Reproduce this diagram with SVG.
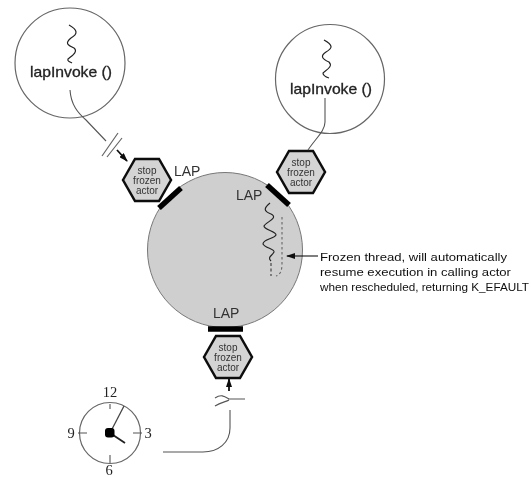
<svg xmlns="http://www.w3.org/2000/svg" width="531" height="477" viewBox="0 0 531 477">
<defs>
<marker id="arr" markerWidth="9" markerHeight="6" refX="8" refY="3" orient="auto" markerUnits="userSpaceOnUse"><path d="M0 0L9 3L0 6Z" fill="#111"/></marker>
<filter id="b" x="-5%" y="-5%" width="110%" height="110%"><feGaussianBlur stdDeviation="0.7"/></filter>
<g id="hexshape"><polygon points="-24,0 -12,-21 12,-21 24,0 12,21 -12,21" fill="#d4d4d4" stroke="#111" stroke-width="2.500"/>
<text class="h" y="-6.500">stop</text><text class="h" y="3.500">frozen</text><text class="h" y="13.500">actor</text></g>
</defs>
<style>
text{font-family:"Liberation Sans",Arial,sans-serif;fill:#222}
.h{font-size:10px;text-anchor:middle;fill:#333}
.t{font-size:14.500px;fill:#222;stroke:#222;stroke-width:.3}
.l{font-size:14px;fill:#333}
.n{font-size:11.500px;fill:#111}
.c{font-size:14.500px;text-anchor:middle;font-family:"Liberation Serif",serif;fill:#222}
.ln{fill:none;stroke:#555;stroke-width:1.100}
.sq{fill:none;stroke:#222;stroke-width:1.200}
.circ{fill:#fff;stroke:#666;stroke-width:1.200}
.bar{stroke:#000;stroke-width:5.500;fill:none}
</style>
<rect width="531" height="477" fill="#fff"/>
<g filter="url(#b)">
<g id="actor-core"><circle cx="225" cy="250" r="77.500" fill="#cfcfcf" stroke="#777" stroke-width="1"/>
<path class="bar" d="M159 208L181 188"/><path class="bar" d="M267 185L289 205"/><path class="bar" d="M208 329H243"/>
<text class="l" x="174" y="176">LAP</text><text class="l" x="236" y="200">LAP</text><text class="l" x="213" y="318">LAP</text>
<path class="sq" d="M270 203C264 208 263 211 271 214C279 218 266 222 264 226C264 230 276 231 276 235C274 239 263 239 263 244C265 248 275 249 274 252C272 256 267 257 271 261"/>
<path d="M271 263V276" fill="none" stroke="#444" stroke-width="1.200" stroke-dasharray="3 2.500"/>
<path d="M282 217V264C282 271 280 275 276 276" fill="none" stroke="#666" stroke-width="1.100" stroke-dasharray="2.500 2.500"/>
</g>
<g id="actor-left"><circle class="circ" cx="70" cy="63" r="55"/>
<path class="sq" d="M69 25C78 30 78 34 71 38C65 43 67 45 74 48C79 52 70 57 68 59C67 61 70 62 72 63"/>
<text class="t" x="30" y="77" textLength="82" lengthAdjust="spacingAndGlyphs">lapInvoke ()</text></g>
<g id="actor-right"><circle class="circ" cx="330" cy="79" r="54.500"/>
<path class="sq" d="M324 40C333 45 333 48 326 52C320 56 322 59 329 62C334 67 324 71 323 73C323 76 326 77 329 78"/>
<text class="t" x="290" y="94" textLength="82" lengthAdjust="spacingAndGlyphs">lapInvoke ()</text></g>
<g id="hex-left"><use href="#hexshape" transform="translate(147,180)"/></g>
<g id="hex-right"><use href="#hexshape" transform="translate(301,172)"/></g>
<g id="hex-bottom"><use href="#hexshape" transform="translate(228,357)"/></g>
<g id="clock"><circle class="circ" cx="110" cy="433" r="30.500"/>
<path class="ln" d="M110 404V409M110 455V463M78 433H87M133 433H142"/>
<path class="ln" d="M110 433L124 406" style="stroke:#444;stroke-width:1.300"/>
<path d="M110 433L125 443" stroke="#222" stroke-width="1.800" fill="none"/>
<rect x="105" y="428" width="9.500" height="9.500" rx="3" fill="#000"/>
<text class="c" x="110" y="397">12</text><text class="c" x="71" y="438">9</text><text class="c" x="148" y="438">3</text><text class="c" x="109" y="475">6</text></g>
<g id="note"><text class="n" x="320" y="261" textLength="187" lengthAdjust="spacingAndGlyphs">Frozen thread, will automatically</text><text class="n" x="320" y="276" textLength="191" lengthAdjust="spacingAndGlyphs">resume execution in calling actor</text><text class="n" x="320" y="291" textLength="209" lengthAdjust="spacingAndGlyphs">when rescheduled, returning K_EFAULT</text></g>
<g id="connectors">
<path class="ln" d="M70 90C71 105 78 113 86 120L106 141"/>
<path d="M102 156L118 133M107 157L122 138" fill="none" stroke="#666" stroke-width="1.200"/>
<path d="M117 150L127 161" fill="none" stroke="#111" stroke-width="1.800" marker-end="url(#arr)"/>
<path class="ln" d="M325 98V122C325 131 316 138 308 150"/>
<path d="M229 391L229 379" stroke="#111" stroke-width="1.800" fill="none" marker-end="url(#arr)"/>
<path class="ln" d="M215 398C221 394 224 396 229 399H245M215 406C221 402 226 402 229 400"/>
<path class="ln" d="M230 410V428C230 443 218 452 203 452H163"/>
<path d="M318 256H287" fill="none" stroke="#111" stroke-width="1.100" marker-end="url(#arr)"/>
</g>
</g>
</svg>
